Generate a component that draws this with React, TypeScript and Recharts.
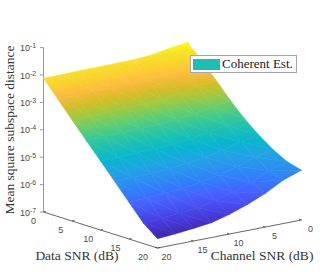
import { ComposedChart, Scatter, XAxis, YAxis, Legend } from "recharts";

const WIDTH = 332;
const HEIGHT = 279;

const dataSnr = [0, 2.5, 5, 7.5, 10, 12.5, 15, 17.5, 20];
const channelSnr = [0, 2.5, 5, 7.5, 10, 12.5, 15, 17.5, 20];

// log10 of the mean square distance, rows = data SNR, columns = channel SNR
const logMse = [
  [-1.83, -1.92, -2.04, -2.08, -2.09, -2.1, -2.1, -2.12, -2.12],
  [-2.35, -2.45, -2.58, -2.64, -2.66, -2.68, -2.68, -2.71, -2.71],
  [-2.88, -2.98, -3.13, -3.2, -3.24, -3.27, -3.28, -3.3, -3.31],
  [-3.45, -3.55, -3.69, -3.77, -3.81, -3.85, -3.86, -3.89, -3.9],
  [-3.96, -4.06, -4.21, -4.3, -4.37, -4.42, -4.44, -4.46, -4.48],
  [-4.39, -4.51, -4.69, -4.81, -4.91, -4.98, -5.02, -5.05, -5.07],
  [-4.76, -4.9, -5.12, -5.29, -5.43, -5.54, -5.59, -5.63, -5.66],
  [-5.04, -5.23, -5.52, -5.75, -5.94, -6.09, -6.15, -6.21, -6.25],
  [-5.18, -5.41, -5.77, -6.05, -6.28, -6.46, -6.54, -6.61, -6.66],
];

const zTicks = [-7, -6, -5, -4, -3, -2, -1];
const dataTicks = [0, 5, 10, 15, 20];
const channelTicks = [20, 15, 10, 5, 0];

// parula colormap samples
const parulaOffsets = [0, 4, 8, 12, 16, 20, 24, 28, 32, 36, 40, 44, 48, 51, 53, 56, 60, 63];
const parulaColors = [
  "#3e26a8", "#4537d5", "#474df0", "#4563fd", "#327cfc", "#2b91ef",
  "#20a5e2", "#08b5d0", "#19bfb6", "#37c897", "#64cd6f", "#9dc943",
  "#d1bf27", "#efba36", "#febe3c", "#fccf30", "#f5e327", "#f9fb15",
];
const colorLow = -6.66;
const colorHigh = -1.83;
const zAxisColor = "#808080";
const axisColor = "#404040";
const tickColor = "#4a4a4a";
const serif = '"Liberation Serif", serif';
const sans = '"Liberation Sans", sans-serif';

// view from MATLAB's 3-D axes: fixed projection onto the chart plane
function project(d: number, c: number, z: number) {
  const u = d / 20;
  const v = (20 - c) / 20;
  return {
    x: 43.5 + u * 114 + v * 144,
    y: 212 + u * 36 - v * 28 - (z + 7) * 27.4,
  };
}

const surfaceNodes = dataSnr.flatMap((d, i) =>
  channelSnr.map((c, j) => ({ ...project(d, c, logMse[i][j]), z: logMse[i][j] }))
);

const zAxisPoints = zTicks.map((z) => ({ ...project(0, 20, z), z }));
const dataAxisPoints = dataTicks.map((d) => ({ ...project(d, 20, -7), snr: String(d), d }));
const channelAxisPoints = channelTicks.map((c) => ({ ...project(20, c, -7), snr: String(c) }));

function triangle(pts: any[], ids: number[], key: string) {
  const [a, b, c] = ids.map((k) => pts[k]);
  const [za, zb, zc] = ids.map((k) => surfaceNodes[k].z);
  const det = (b.x - a.x) * (c.y - a.y) - (c.x - a.x) * (b.y - a.y);
  const gx = ((zb - za) * (c.y - a.y) - (zc - za) * (b.y - a.y)) / det;
  const gy = ((b.x - a.x) * (zc - za) - (c.x - a.x) * (zb - za)) / det;
  const g2 = gx * gx + gy * gy || 1e-9;
  const s = (colorLow - za) / g2;
  const e = (colorHigh - za) / g2;
  const poly = `${a.x},${a.y} ${b.x},${b.y} ${c.x},${c.y}`;
  return (
    <g key={key}>
      <linearGradient
        id={key}
        href="#parula"
        gradientUnits="userSpaceOnUse"
        x1={a.x + gx * s}
        y1={a.y + gy * s}
        x2={a.x + gx * e}
        y2={a.y + gy * e}
      />
      <polygon points={poly} fill={`url(#${key})`} stroke={`url(#${key})`} strokeWidth={0.6} />
    </g>
  );
}

function SurfaceMesh(props: any) {
  const pts = props.points;
  const n = channelSnr.length;
  const tris = [];
  for (let i = 0; i < dataSnr.length - 1; i++) {
    for (let j = 0; j < n - 1; j++) {
      const k = i * n + j;
      tris.push(triangle(pts, [k, k + 1, k + n], `t${k}a`));
      tris.push(triangle(pts, [k + 1, k + n + 1, k + n], `t${k}b`));
    }
  }
  return (
    <g>
      <linearGradient id="parula">
        {parulaColors.map((col, i) => (
          <stop key={i} offset={parulaOffsets[i] / 63} stopColor={col} />
        ))}
      </linearGradient>
      {tris}
    </g>
  );
}

const noDot = () => <g />;

function ZTick(props: any) {
  const { cx, cy, payload } = props;
  return (
    <g>
      <line x1={cx} y1={cy} x2={cx - 3.5} y2={cy} stroke={zAxisColor} strokeWidth={0.8} />
      <text x={cx - 23.5} y={cy + 3.5} fontFamily={sans} fontSize={9} fill={tickColor}>
        10
        <tspan dy={-3} fontSize={7}>{payload.z}</tspan>
      </text>
    </g>
  );
}

function DataTick(props: any) {
  const { cx, cy, payload } = props;
  return (
    <g>
      <line x1={cx} y1={cy} x2={cx + 2.5} y2={cy - 0.5} stroke={axisColor} strokeWidth={0.8} />
      <text
        x={cx - 10 - (payload.d / 20) * 4.5}
        y={cy + 11.5}
        textAnchor="middle"
        fontFamily={sans}
        fontSize={9}
        fill={tickColor}
      >
        {payload.snr}
      </text>
    </g>
  );
}

function ChannelTick(props: any) {
  const { cx, cy, payload } = props;
  return (
    <g>
      <line x1={cx} y1={cy} x2={cx - 2.5} y2={cy - 0.8} stroke={axisColor} strokeWidth={0.8} />
      <text x={cx + 9} y={cy + 12} textAnchor="middle" fontFamily={sans} fontSize={9} fill={tickColor}>
        {payload.snr}
      </text>
    </g>
  );
}

function LegendBox(props: any) {
  const item = props.payload?.find((p: any) => p.value === "Coherent Est.");
  return (
    <div
      style={{
        display: "flex",
        alignItems: "center",
        boxSizing: "border-box",
        width: 107,
        height: 18,
        background: "#fff",
        border: "1px solid #a6a6a6",
        paddingLeft: 2,
      }}
    >
      <span style={{ width: 27, height: 11, background: "#1cbfb6", marginRight: 2 }} />
      <span style={{ fontFamily: serif, fontSize: 13, color: "#1a1a1a", whiteSpace: "nowrap" }}>
        {item ? item.value : "Coherent Est."}
      </span>
    </div>
  );
}

export default function App() {
  return (
    <div style={{ position: "absolute", left: 0, top: 0, width: WIDTH, height: HEIGHT, background: "#fff" }}>
      <ComposedChart width={WIDTH} height={HEIGHT} margin={{ top: 0, right: 0, bottom: 0, left: 0 }}>
        <XAxis type="number" dataKey="x" domain={[0, WIDTH]} hide allowDataOverflow />
        <YAxis type="number" dataKey="y" domain={[0, HEIGHT]} reversed hide allowDataOverflow />
        <Legend
          content={<LegendBox />}
          layout="vertical"
          align="center"
          verticalAlign="middle"
          wrapperStyle={{ left: 190, top: 55, width: 107, height: 18, bottom: "auto" }}
        />
        <Scatter
          legendType="none"
          data={zAxisPoints}
          line={{ stroke: zAxisColor, strokeWidth: 0.8 }}
          shape={ZTick}
          isAnimationActive={false}
        />
        <Scatter
          legendType="none"
          data={dataAxisPoints}
          line={{ stroke: axisColor, strokeWidth: 0.8 }}
          shape={DataTick}
          isAnimationActive={false}
        />
        <Scatter
          legendType="none"
          data={channelAxisPoints}
          line={{ stroke: axisColor, strokeWidth: 0.8 }}
          shape={ChannelTick}
          isAnimationActive={false}
        />
        <Scatter
          name="Coherent Est."
          data={surfaceNodes}
          line={SurfaceMesh}
          shape={noDot}
          fill="#1cbfb6"
          isAnimationActive={false}
        />
        <text x={77} y={260} textAnchor="middle" fontFamily={serif} fontSize={13.5} fill="#333">
          Data SNR (dB)
        </text>
        <text x={262} y={260} textAnchor="middle" fontFamily={serif} fontSize={13.5} fill="#333">
          Channel SNR (dB)
        </text>
        <text
          transform="translate(14 130) rotate(-90)"
          textAnchor="middle"
          fontFamily={serif}
          fontSize={13.5}
          fill="#333"
        >
          Mean square subspace distance
        </text>
      </ComposedChart>
    </div>
  );
}
